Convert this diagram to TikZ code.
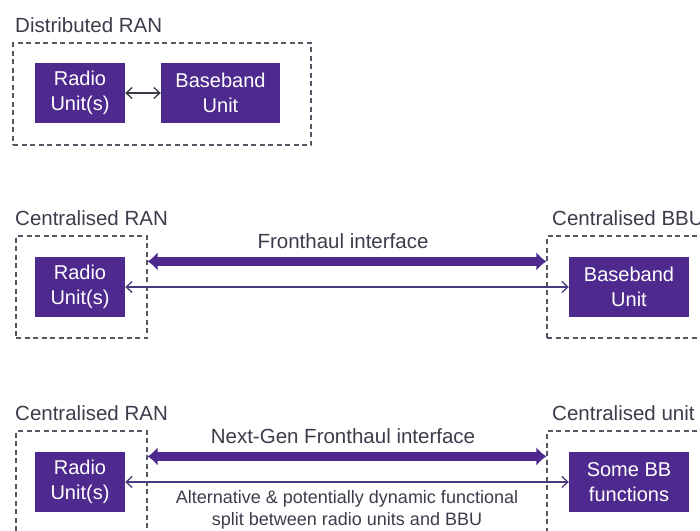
\documentclass[tikz,border=0pt]{standalone}
\usepackage{fontspec}
\setmainfont{Liberation Sans}
\usetikzlibrary{arrows.meta,calc}
\definecolor{ranpurple}{RGB}{78,42,142}
\definecolor{lblgray}{RGB}{60,60,75}
\definecolor{dashgray}{RGB}{85,85,100}
\definecolor{linkpurple}{RGB}{75,58,125}
\tikzset{
  unitbox/.style={fill=ranpurple,text=white,minimum height=60pt,align=center,inner sep=2pt,font=\fontsize{20}{25}\selectfont},
  ranframe/.style={draw=dashgray,line width=1.2pt,dash pattern=on 5pt off 3.5pt},
  paneltitle/.style={anchor=base west,inner sep=0pt,text=lblgray,font=\fontsize{20.5}{24}\selectfont},
  fat/.style={ranpurple,line width=9pt,{Latex[length=10pt,width=19pt]}-{Latex[length=10pt,width=19pt]}},
  link/.style={linkpurple,line width=1.3pt,{Straight Barb[length=6pt,width=11pt]}-{Straight Barb[length=6pt,width=11pt]}}
}
\begin{document}
\begin{tikzpicture}[x=1pt,y=-1pt]
\path[use as bounding box,clip] (0,0) rectangle (700,530);

\node[paneltitle] (t0) at (15,32) {Distributed RAN};
\node[ranframe,minimum width=298pt,minimum height=102pt] (f0) at (162,94) {};
\node[unitbox,minimum width=90pt] (ru0) at (80,93) {Radio\\Unit(s)};
\node[unitbox,minimum width=119pt] (bb0) at (220.5,93) {Baseband\\Unit};
\draw[link,lblgray] (ru0) -- (bb0);

\foreach \y/\lbl/\rtitle/\rtext [count=\n] in
        {287/Fronthaul interface/Centralised BBU/Baseband\\Unit,
         482/Next-Gen Fronthaul interface/Centralised unit/Some BB\\functions}
  {
  \node[paneltitle] (tl\n) at (15,\y-62) {Centralised RAN};
  \node[paneltitle] (tr\n) at (552,\y-62) {\rtitle};
  \node[ranframe,minimum width=131pt,minimum height=102pt] (fl\n) at (81.5,\y) {};
  \node[ranframe,minimum width=160pt,minimum height=102pt] (fr\n) at (627,\y) {};
  \node[unitbox,minimum width=90pt] (ru\n) at (80,\y) {Radio\\Unit(s)};
  \node[unitbox,minimum width=120pt] (bb\n) at (629,\y) {\rtext};
  \draw[fat] ([yshift=-26pt]fl\n.north east) -- ([yshift=-26pt]fr\n.north west);
  \draw[link] (ru\n) -- (bb\n);
  \node[anchor=base,text=lblgray,font=\fontsize{20.5}{24}\selectfont] (if\n) at (343,\y-39) {\lbl};
  }

\node[text=lblgray,font=\fontsize{18}{22}\selectfont,align=center] (split) at (347,510)
  {Alternative \& potentially dynamic functional\\split between radio units and BBU};
\end{tikzpicture}
\end{document}
